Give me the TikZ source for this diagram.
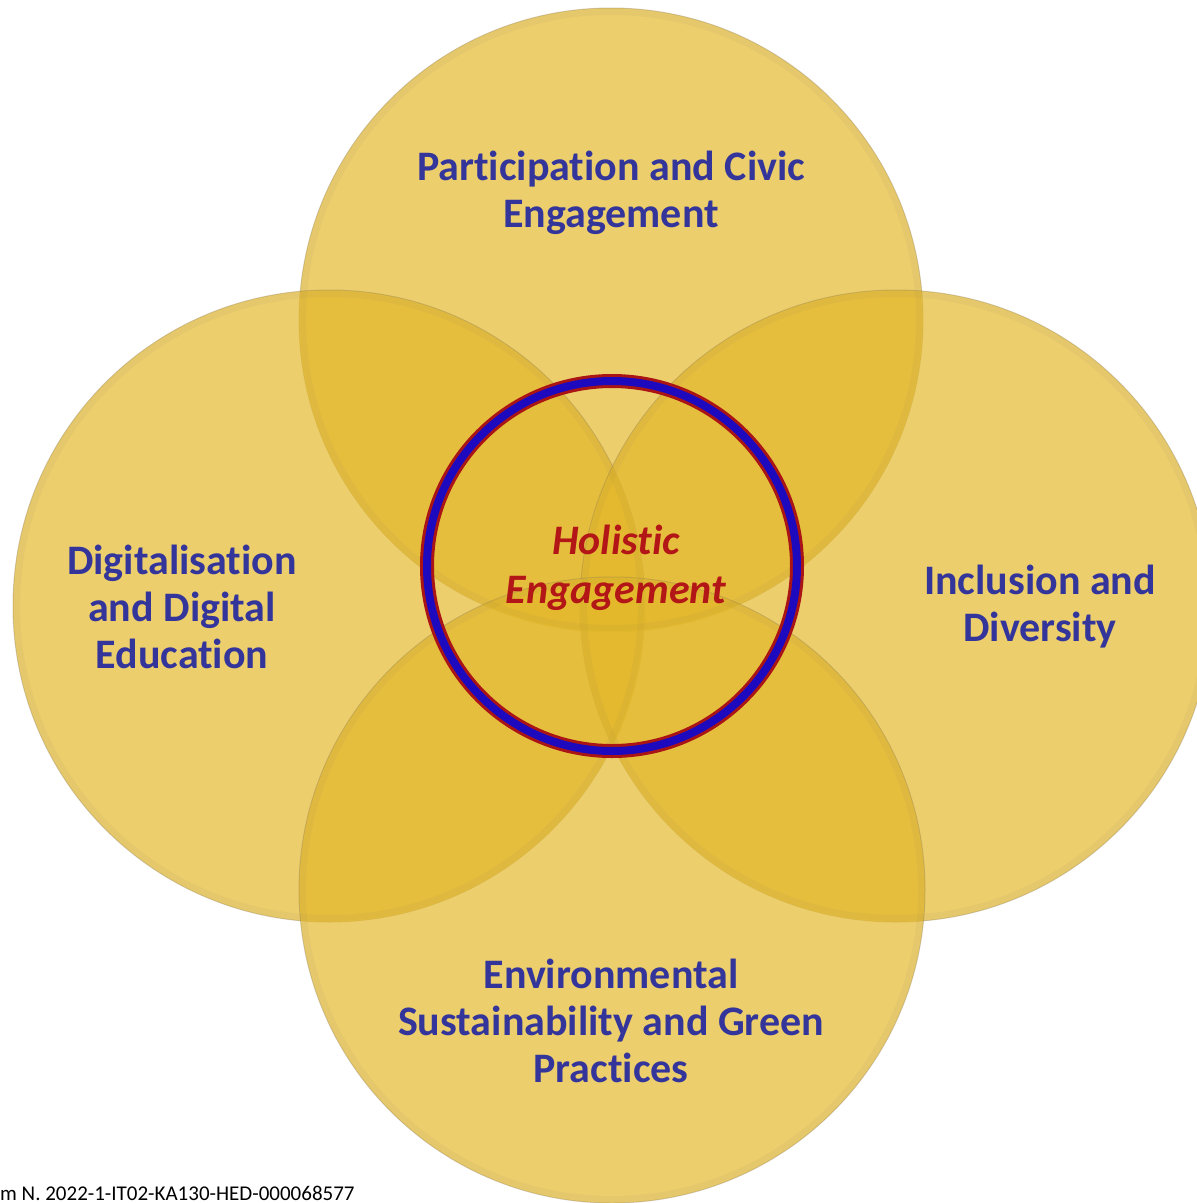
\documentclass[tikz,border=0pt]{standalone}
\usepackage{fontspec}
\setmainfont[Ligatures={TeX,NoCommon}]{Carlito}
\definecolor{petal}{RGB}{227,183,40}
\definecolor{rim}{RGB}{150,130,80}
\definecolor{labelblue}{RGB}{51,53,154}
\definecolor{holred}{RGB}{178,22,22}
\definecolor{ringred}{RGB}{170,20,20}
\definecolor{ringblue}{RGB}{30,10,190}
\tikzset{
  petalcircle/.style={fill=petal,fill opacity=0.68,draw=rim,draw opacity=0.4,line width=1pt},
  petalrim/.style={draw=rim,draw opacity=0.08,line width=6pt},
  label/.style={text=labelblue,font=\bfseries\fontsize{42}{47}\selectfont,align=center,inner sep=0pt},
}
\begin{document}
\begin{tikzpicture}[x=1pt,y=-1pt]
\useasboundingbox (0,0) rectangle (1197,1203);
\begin{scope}
\clip (0,0) rectangle (1197,1203);
\coordinate (ct) at (611,320);
\coordinate (cl) at (329,606);
\coordinate (cr) at (896,606);
\coordinate (cb) at (612,890);
\draw[petalcircle] (ct) circle[radius=312];
\draw[petalcircle] (cl) circle[radius=316];
\draw[petalcircle] (cr) circle[radius=316];
\draw[petalcircle] (cb) circle[radius=313];
\draw[petalrim] (ct) circle[radius=308];
\draw[petalrim] (cl) circle[radius=312];
\draw[petalrim] (cr) circle[radius=312];
\draw[petalrim] (cb) circle[radius=309];
\end{scope}
\coordinate (hc) at (612,566);
\draw[ringred,line width=14pt] (hc) circle[radius=185];
\draw[ringblue,line width=8pt] (hc) circle[radius=185];
\node[label] (top) at (611,193) {Participation and Civic\\Engagement};
\node[label] (left) at (182,607) {Digitalisation\\and Digital\\Education};
\node[label] (right) at (1040,607) {Inclusion and\\Diversity};
\node[label] (bottom) at (611,1021) {Environmental\\Sustainability and Green\\Practices};
\node[label,text=holred,font=\bfseries\itshape\fontsize{42}{49}\selectfont] (hol) at (616,568) {Holistic\\Engagement};
\node[anchor=west,inner sep=0pt,font=\fontsize{21}{24}\selectfont] (foot) at (0,1193) {m N. 2022-1-IT02-KA130-HED-000068577};
\end{tikzpicture}
\end{document}
